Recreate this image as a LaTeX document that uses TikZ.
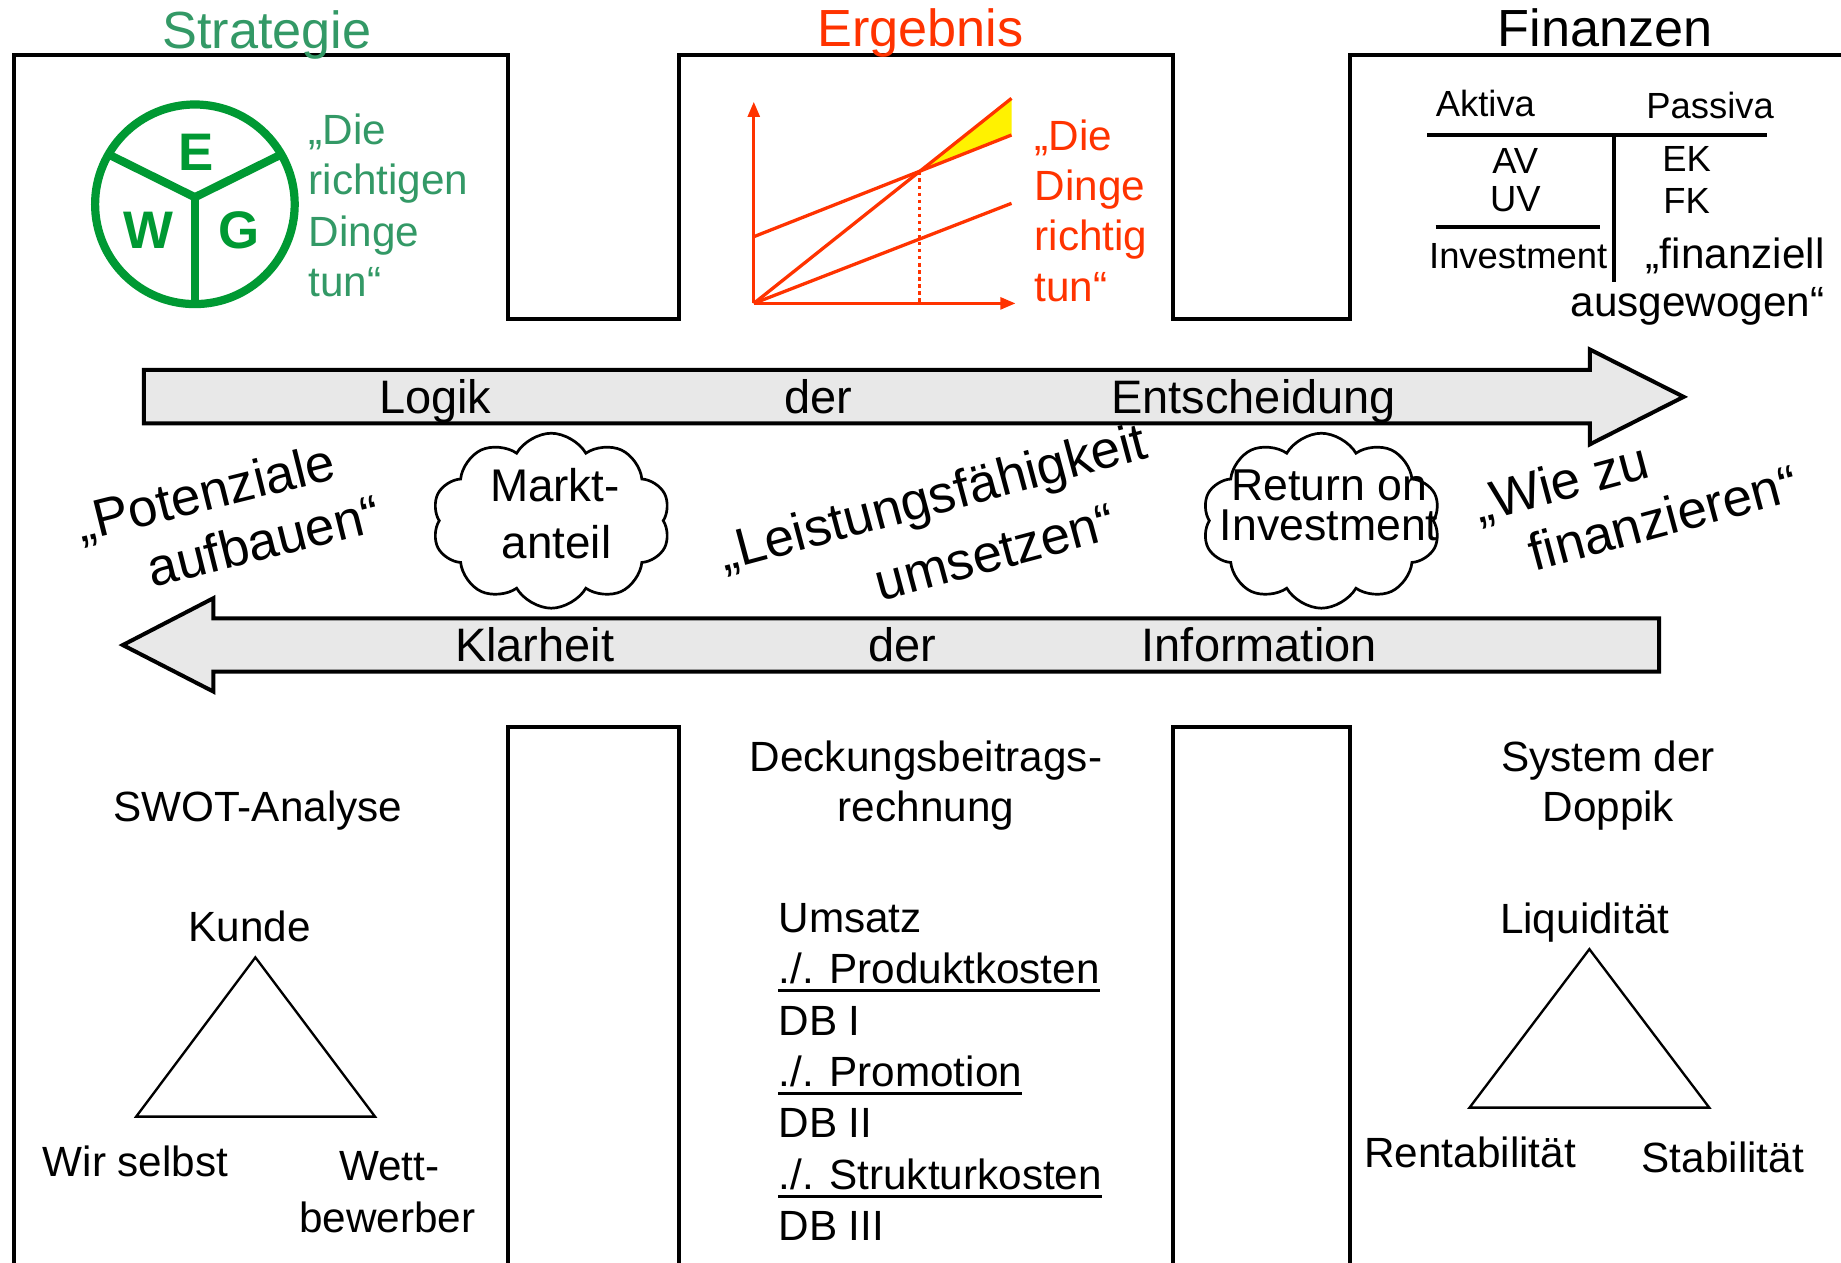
\documentclass[tikz,border=0pt]{standalone}
\usepackage{fontspec}
\setmainfont{Liberation Sans}
\usetikzlibrary{shapes.symbols,arrows.meta}
\definecolor{sgreen}{RGB}{51,153,102}
\definecolor{ewggreen}{RGB}{0,153,51}
\definecolor{ered}{RGB}{255,51,0}
\definecolor{agray}{RGB}{232,232,232}
\tikzset{
  frame/.style={line width=3.4pt, line join=miter},
  title/.style={inner sep=0pt, anchor=base, font=\fontsize{44.5}{50}\selectfont},
  txt/.style={inner sep=0pt, font=\fontsize{36}{43}\selectfont},
  fin/.style={inner sep=0pt, font=\fontsize{31}{36}\selectfont},
  arrtxt/.style={inner sep=0pt, anchor=base, font=\fontsize{40}{48}\selectfont},
  rot/.style={inner sep=0pt, anchor=base, font=\fontsize{45}{50}\selectfont},
  bigarrow/.style={draw=black, fill=agray, line width=3.4pt, line join=miter},
  ewg/.style={draw=ewggreen, line width=7pt},
  ewgl/.style={inner sep=0pt, text=ewggreen, font=\fontsize{45}{50}\selectfont\bfseries},
  chart/.style={draw=ered, line width=2.8pt},
  axis/.style={draw=ered, line width=2.8pt, -{Triangle[length=13pt,width=10pt]}},
  cloudsh/.style={draw=black, fill=white, cloud, cloud puffs=10, cloud puff arc=120, aspect=1.36,
     minimum width=203pt, minimum height=149pt, inner sep=0pt, line width=2.3pt},
  cltxt/.style={inner sep=0pt, anchor=base, font=\fontsize{39}{46}\selectfont},
  tri/.style={draw=black, line width=2pt, line join=miter},
  uline/.style={draw=black, line width=2.5pt},
  tline/.style={draw=black, line width=3.4pt}
}
\begin{document}
\begin{tikzpicture}[x=1pt,y=-1pt]
\useasboundingbox (0,0) rectangle (1568,1075);
\fill[white] (0,0) rectangle (1568,1075);

% frame
\draw[frame] (12,1085) -- (12,47) -- (433,47) -- (433,272) -- (578,272) -- (578,47)
   -- (999,47) -- (999,272) -- (1150,272) -- (1150,47) -- (1580,47);
\draw[frame] (433,1085) -- (433,619) -- (578,619) -- (578,1085);
\draw[frame] (999,1085) -- (999,619) -- (1150,619) -- (1150,1085);

% titles
\node[title, text=sgreen] (tStrat) at (227.3,41) {Strategie};
\node[title, text=ered] (tErg) at (784,39.2) {Ergebnis};
\node[title, text=black] (tFin) at (1367,39.8) {Finanzen};

% EWG circle
\coordinate (ewgC) at (166,174);
\coordinate (ewgJ) at (166,168);
\coordinate (ewgUL) at (92.4,131.5);
\coordinate (ewgUR) at (239.6,131.5);
\coordinate (ewgB) at (166,259);
\draw[ewg] (ewgC) circle (85);
\draw[ewg] (ewgJ) -- (ewgUL);
\draw[ewg] (ewgJ) -- (ewgUR);
\draw[ewg] (ewgJ) -- (ewgB);
\node[ewgl] (lE) at (166.7,129.8) {E};
\node[ewgl] (lW) at (126.3,196) {W};
\node[ewgl] (lG) at (203.7,196) {G};

% green text
\node[txt, text=sgreen, anchor=base west] (g1) at (262.7,123.5) {„Die};
\node[txt, text=sgreen, anchor=base west] (g2) at (262.7,166) {richtigen};
\node[txt, text=sgreen, anchor=base west] (g3) at (262.7,210) {Dinge};
\node[txt, text=sgreen, anchor=base west] (g4) at (262.7,252.7) {tun“};

% chart
\coordinate (O) at (642,258.4);
\coordinate (Ytop) at (642,86.6);
\coordinate (Xend) at (865,258.4);
\coordinate (R) at (861.5,83.8);
\coordinate (F) at (642,201.6);
\coordinate (T) at (861.5,115);
\coordinate (V) at (861.5,173.2);
\coordinate (I) at (783,146);
\coordinate (Ib) at (783,258.4);
\fill[yellow] (I) -- (R) -- (T) -- cycle;
\draw[draw=ered, line width=2.5pt, dash pattern=on 3pt off 3pt] (I) -- (Ib);
\draw[chart] (O) -- (R);
\draw[chart] (F) -- (T);
\draw[chart] (O) -- (V);
\draw[axis] (O) -- (Ytop);
\draw[axis] (O) -- (Xend);

% red text
\node[txt, text=ered, anchor=base west] (r1) at (881,127.8) {„Die};
\node[txt, text=ered, anchor=base west] (r2) at (881,170.4) {Dinge};
\node[txt, text=ered, anchor=base west] (r3) at (881,213.5) {richtig};
\node[txt, text=ered, anchor=base west] (r4) at (881,257) {tun“};

% Finanzen table
\node[fin, anchor=base west] (akt) at (1222.7,99.4) {Aktiva};
\node[fin, anchor=base west] (pas) at (1402,100.8) {Passiva};
\coordinate (hl1) at (1215.5,115);
\coordinate (hl2) at (1505,115);
\coordinate (vl1) at (1374.5,115);
\coordinate (vl2) at (1374.5,240);
\coordinate (sl1) at (1222.7,193);
\coordinate (sl2) at (1363,193);
\draw[tline] (hl1) -- (hl2);
\draw[tline] (vl1) -- (vl2);
\draw[tline] (sl1) -- (sl2);
\node[fin, anchor=base] (av) at (1290.6,147.6) {AV};
\node[fin, anchor=base] (uv) at (1290.6,180.3) {UV};
\node[fin, anchor=base] (ek) at (1436.6,146.2) {EK};
\node[fin, anchor=base] (fk) at (1436.6,181.7) {FK};
\node[fin, anchor=base west] (inv) at (1217,228.6) {Investment};
\node[txt, anchor=base west] (fz) at (1401.6,228.6) {„finanziell};
\node[txt, anchor=base east] (ag) at (1554,269.7) {ausgewogen“};

% big arrows
\draw[bigarrow] (122.5,315) -- (1354,315) -- (1354,297.6) -- (1434,338) -- (1354,378.5)
   -- (1354,360.6) -- (122.5,360.6) -- cycle;
\draw[bigarrow] (1413,526.7) -- (181.7,526.7) -- (181.7,509.5) -- (104.6,549.4) -- (181.7,589)
   -- (181.7,572) -- (1413,572) -- cycle;
\node[arrtxt] (aLog) at (370.8,352.6) {Logik};
\node[arrtxt] (aDer1) at (697,352.6) {der};
\node[arrtxt] (aEnt) at (1067.8,352.6) {Entscheidung};
\node[arrtxt] (aKla) at (455.4,563.6) {Klarheit};
\node[arrtxt] (aDer2) at (768.3,563.6) {der};
\node[arrtxt] (aInf) at (1072.5,563.6) {Information};

% clouds
\node[cloudsh] (c1) at (469.5,443.5) {};
\node[cloudsh] (c2) at (1125.4,443.5) {};
\node[cltxt] (m1) at (472.7,427.3) {Markt-};
\node[cltxt] (m2) at (474,475.6) {anteil};
\node[cltxt, font=\fontsize{38}{44}\selectfont] (ro1) at (1132,425.9) {Return on};
\node[cltxt, font=\fontsize{38}{44}\selectfont] (ro2) at (1132,460) {Investment};

% rotated phrases
\node[rot, rotate=14] (p1) at (178.8,434.4) {„Potenziale};
\node[rot, rotate=14] (p2) at (228.6,475.9) {aufbauen“};
\node[rot, rotate=15] (l1) at (797.9,438) {„Leistungsfähigkeit};
\node[rot, rotate=15] (l2) at (851.6,485.1) {umsetzen“};
\node[rot, rotate=15] (w1) at (1333.6,425.9) {„Wie zu};
\node[rot, rotate=15] (w2) at (1420.5,456) {finanzieren“};

% bottom left: SWOT
\node[txt, anchor=base] (swot) at (219.5,700) {SWOT-Analyse};
\node[txt, anchor=base] (kunde) at (212.5,802.3) {Kunde};
\coordinate (t1a) at (217.5,815.4);
\coordinate (t1b) at (116,951);
\coordinate (t1c) at (319.4,951);
\draw[tri] (t1a) -- (t1b) -- (t1c) -- cycle;
\node[txt, anchor=base] (wir) at (115.4,1002.3) {Wir selbst};
\node[txt, anchor=base] (wett) at (331.7,1005.4) {Wett-};
\node[txt, anchor=base] (bew) at (329.7,1049.6) {bewerber};

% bottom middle: DB
\node[txt, anchor=base] (db0) at (788.7,656.7) {Deckungsbeitrags-};
\node[txt, anchor=base] (db00) at (788.7,700) {rechnung};
\node[txt, anchor=base west] (d1) at (662.9,794.1) {Umsatz};
\node[txt, anchor=base west] (d2) at (662.9,837.4) {./. Produktkosten};
\node[txt, anchor=base west] (d3) at (662.9,881.7) {DB I};
\node[txt, anchor=base west] (d4) at (662.9,925.3) {./. Promotion};
\node[txt, anchor=base west] (d5) at (662.9,968.7) {DB II};
\node[txt, anchor=base west] (d6) at (662.9,1013) {./. Strukturkosten};
\node[txt, anchor=base west] (d7) at (662.9,1056.6) {DB III};
\draw[uline] ([yshift=-6pt]d2.base west) -- ([yshift=-6pt]d2.base east);
\draw[uline] ([yshift=-6pt]d4.base west) -- ([yshift=-6pt]d4.base east);
\draw[uline] ([yshift=-6pt]d6.base west) -- ([yshift=-6pt]d6.base east);

% bottom right: Doppik
\node[txt, anchor=base] (sys) at (1369.7,656.7) {System der};
\node[txt, anchor=base] (dop) at (1369.8,700) {Doppik};
\node[txt, anchor=base] (liq) at (1349.7,794.7) {Liquidität};
\coordinate (t2a) at (1353.7,808.4);
\coordinate (t2b) at (1251.6,943.4);
\coordinate (t2c) at (1455.8,943.4);
\draw[tri] (t2a) -- (t2b) -- (t2c) -- cycle;
\node[txt, anchor=base] (ren) at (1252.1,994.6) {Rentabilität};
\node[txt, anchor=base] (sta) at (1467.3,998.6) {Stabilität};
\end{tikzpicture}
\end{document}
